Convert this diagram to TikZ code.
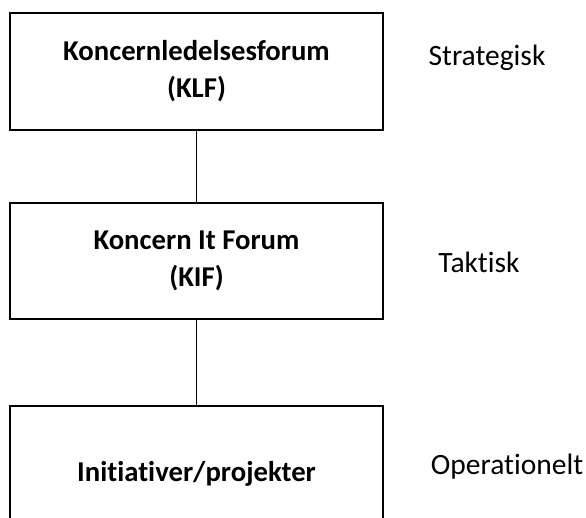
\documentclass[tikz,border=0pt]{standalone}
\usepackage{fontspec}
\setmainfont{Carlito}[Ligatures={NoCommon}]
\begin{document}
\begin{tikzpicture}[x=1pt,y=1pt,
  levelbox/.style={draw,line width=1.4pt,minimum width=373pt,align=center,
    font=\fontsize{28.7}{37}\selectfont\bfseries},
  levellabel/.style={font=\fontsize{29.5}{34}\selectfont},
  link/.style={line width=0.9pt}]
\useasboundingbox (0,0) rectangle (586,518);
\clip (0,0) rectangle (586,518);
\node[levelbox,minimum height=117pt] (klf) at (196.5,446.5) {Koncernledelsesforum\\(KLF)};
\node[levelbox,minimum height=116pt] (kif) at (196.5,257) {Koncern It Forum\\(KIF)};
\node[levelbox,minimum height=136pt] (ini) at (196.5,44) {Initiativer/projekter};
\draw[link] (klf.south) -- (kif.north);
\draw[link] (kif.south) -- (ini.north);
\node[levellabel] (s) at (487,460) {Strategisk};
\node[levellabel] (t) at (479,256) {Taktisk};
\node[levellabel] (o) at (507,51) {Operationelt};
\end{tikzpicture}
\end{document}
